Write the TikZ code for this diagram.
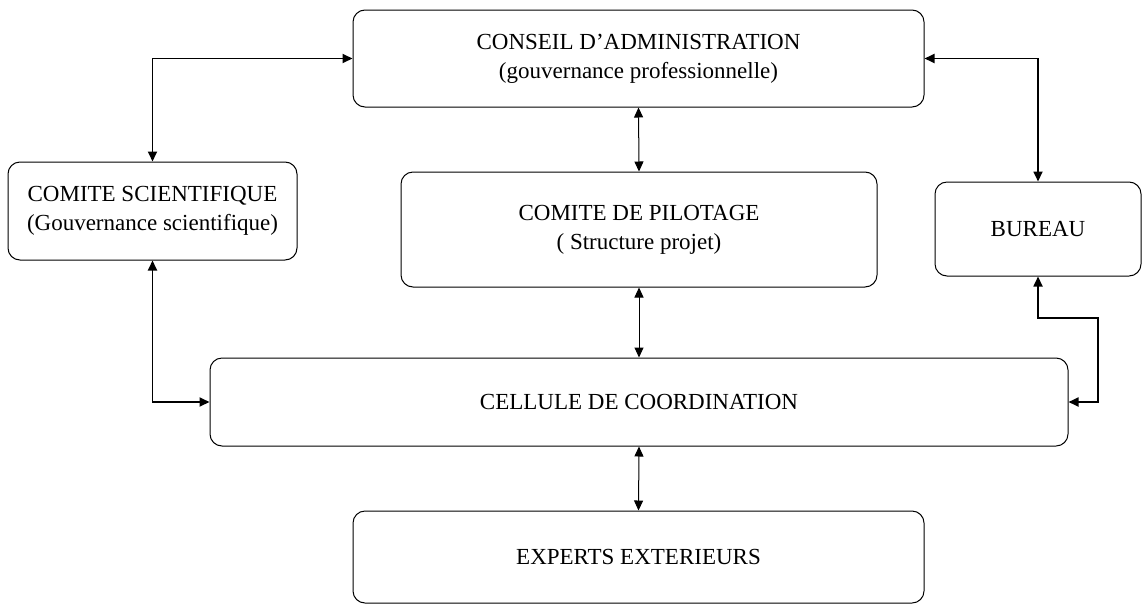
\documentclass[tikz,border=0pt]{standalone}
\usepackage{fontspec}
\setmainfont{Liberation Serif}
\usetikzlibrary{arrows.meta}

\begin{document}
\begin{tikzpicture}[x=0.5pt,y=-0.5pt,
    box/.style={draw,rounded corners=6pt,line width=0.5pt,align=center,
      font=\fontsize{11.5}{14.5}\selectfont,inner sep=0pt},
    link/.style={{Triangle[length=5pt,width=4.5pt]}-{Triangle[length=5pt,width=4.5pt]},line width=0.5pt},
    elbow/.style={link,line width=0.9pt}]
    \useasboundingbox (0,0) rectangle (1143,605);

    \node[box,minimum width=285.5pt,minimum height=48.5pt] (conseil) at (638.5,58.5)
      {CONSEIL D’ADMINISTRATION\\(gouvernance professionnelle)};
    \node[box,minimum width=144.5pt,minimum height=49pt] (sci) at (152.5,211)
      {COMITE SCIENTIFIQUE\\(Gouvernance scientifique)};
    \node[box,minimum width=238pt,minimum height=57.5pt] (pilotage) at (639,229.5)
      {COMITE DE PILOTAGE\\( Structure projet)};
    \node[box,minimum width=103pt,minimum height=47pt] (bureau) at (1038,229) {BUREAU};
    \node[box,minimum width=429pt,minimum height=44pt] (cellule) at (639,402)
      {CELLULE DE COORDINATION};
    \node[box,minimum width=285.5pt,minimum height=46pt] (experts) at (638.5,557)
      {EXPERTS EXTERIEURS};

    % coude a droite
    \coordinate (bend) at (1098,318);

    \draw[elbow] (sci.north) |- (conseil.west);
    \draw[elbow] (conseil.east) -| (bureau.north);
    \draw[link] (conseil.south) -- (pilotage.north);
    \draw[link] (pilotage.south) -- (cellule.north);
    \draw[elbow] (sci.south) |- (cellule.west);
    \draw[elbow] (cellule.east) -| (bend) -| (bureau.south);
    \draw[link] (cellule.south) -- (experts.north);
\end{tikzpicture}
\end{document}
